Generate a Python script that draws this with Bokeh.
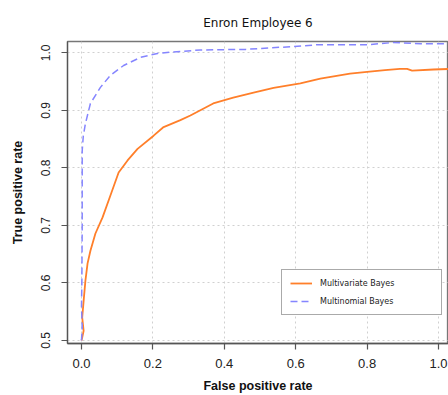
from bokeh.plotting import figure
from bokeh.models import Range1d, FixedTicker, PrintfTickFormatter, Legend, LegendItem
from bokeh.embed import file_html
from bokeh.resources import INLINE

# Multivariate Bayes ROC curve
mv_fpr = [0.0, 0.002, 0.006, 0.002, 0.006, 0.011, 0.017, 0.025, 0.039, 0.059, 0.081,
          0.104, 0.129, 0.157, 0.202, 0.23, 0.277, 0.305, 0.369, 0.425, 0.482, 0.538,
          0.613, 0.669, 0.752, 0.80, 0.85, 0.892, 0.912, 0.926, 0.986, 1.03]
mv_tpr = [0.50, 0.505, 0.517, 0.540, 0.569, 0.604, 0.634, 0.656, 0.686, 0.714, 0.752,
          0.792, 0.813, 0.833, 0.856, 0.871, 0.883, 0.891, 0.912, 0.922, 0.931, 0.939,
          0.947, 0.955, 0.964, 0.967, 0.970, 0.972, 0.972, 0.969, 0.971, 0.972]

# Multinomial Bayes ROC curve
mn_fpr = [0.0, 0.002, 0.0, 0.001, 0.002, 0.002, 0.002, 0.005, 0.011, 0.025, 0.053,
          0.081, 0.118, 0.165, 0.213, 0.249, 0.333, 0.46, 0.594, 0.66, 0.80, 0.874,
          0.95, 1.03]
mn_tpr = [0.50, 0.522, 0.56, 0.60, 0.70, 0.80, 0.83, 0.855, 0.877, 0.912, 0.940,
          0.961, 0.978, 0.992, 0.999, 1.001, 1.005, 1.006, 1.011, 1.014, 1.014, 1.018,
          1.016, 1.016]

x_ticks = [0.0, 0.2, 0.4, 0.6, 0.8, 1.0]
y_ticks = [0.5, 0.6, 0.7, 0.8, 0.9, 1.0]

p = figure(width=448, height=395, output_backend="svg", toolbar_location=None,
           x_range=Range1d(-0.0392, 1.028), y_range=Range1d(0.4948, 1.0197),
           min_border_left=67, min_border_right=0, min_border_top=41, min_border_bottom=52,
           title="Enron Employee 6")

p.title.text_font = "DejaVu Sans"
p.title.text_font_size = "12px"
p.title.text_font_style = "normal"
p.title.align = "center"
p.title.offset = -27
p.title.standoff = 24
p.title.text_color = "#111111"

p.outline_line_color = "#777777"
p.outline_line_width = 1.3
p.background_fill_color = "white"
p.border_fill_color = "white"

for ax in (p.xaxis[0], p.yaxis[0]):
    ax.axis_line_color = "#555555"
    ax.axis_line_width = 1.3
    ax.major_tick_line_color = "#555555"
    ax.major_tick_line_width = 1.2
    ax.major_tick_out = 6
    ax.major_tick_in = 0
    ax.minor_tick_line_color = None
    ax.formatter = PrintfTickFormatter(format="%.1f")
    ax.major_label_text_font = "Liberation Sans"
    ax.major_label_text_color = "#222222"
    ax.axis_label_text_font = "Liberation Sans"
    ax.axis_label_text_font_style = "bold"
    ax.axis_label_text_font_size = "12.5px"
    ax.axis_label_text_color = "#111111"

p.xaxis.ticker = FixedTicker(ticks=x_ticks)
p.yaxis.ticker = FixedTicker(ticks=y_ticks)
p.xaxis.major_label_text_font_size = "13px"
p.yaxis.major_label_text_font_size = "12px"
p.yaxis.major_label_orientation = "vertical"
p.xaxis.major_label_standoff = 9
p.yaxis.major_label_standoff = 11
p.xaxis.axis_label = "False positive rate"
p.yaxis.axis_label = "True positive rate"
p.xaxis.axis_label_standoff = 8
p.yaxis.axis_label_standoff = 14

p.xgrid.ticker = FixedTicker(ticks=x_ticks)
p.ygrid.ticker = FixedTicker(ticks=y_ticks)
for g in (p.xgrid[0], p.ygrid[0]):
    g.grid_line_color = "#d0d0d0"
    g.grid_line_dash = "2 3"
    g.grid_line_width = 1

r_mv = p.line(mv_fpr, mv_tpr, line_color="#ff7f2a", line_width=1.8)
r_mn = p.line(mn_fpr, mn_tpr, line_color="#8585ff", line_width=1.5, line_dash="7 4")

legend = Legend(items=[LegendItem(label="Multivariate Bayes", renderers=[r_mv]),
                       LegendItem(label="Multinomial Bayes", renderers=[r_mn])],
                location=(214, 28))
legend.label_text_font = "DejaVu Sans"
legend.label_text_font_size = "8px"
legend.label_text_color = "#222222"
legend.glyph_width = 22
legend.glyph_height = 10
legend.label_height = 10
legend.label_width = 113
legend.label_standoff = 8
legend.spacing = 8
legend.padding = 8
legend.margin = 0
legend.border_line_color = "#555555"
legend.border_line_width = 1.2
legend.background_fill_alpha = 1
p.add_layout(legend)

open("out.html", "w").write(file_html(p, INLINE))
